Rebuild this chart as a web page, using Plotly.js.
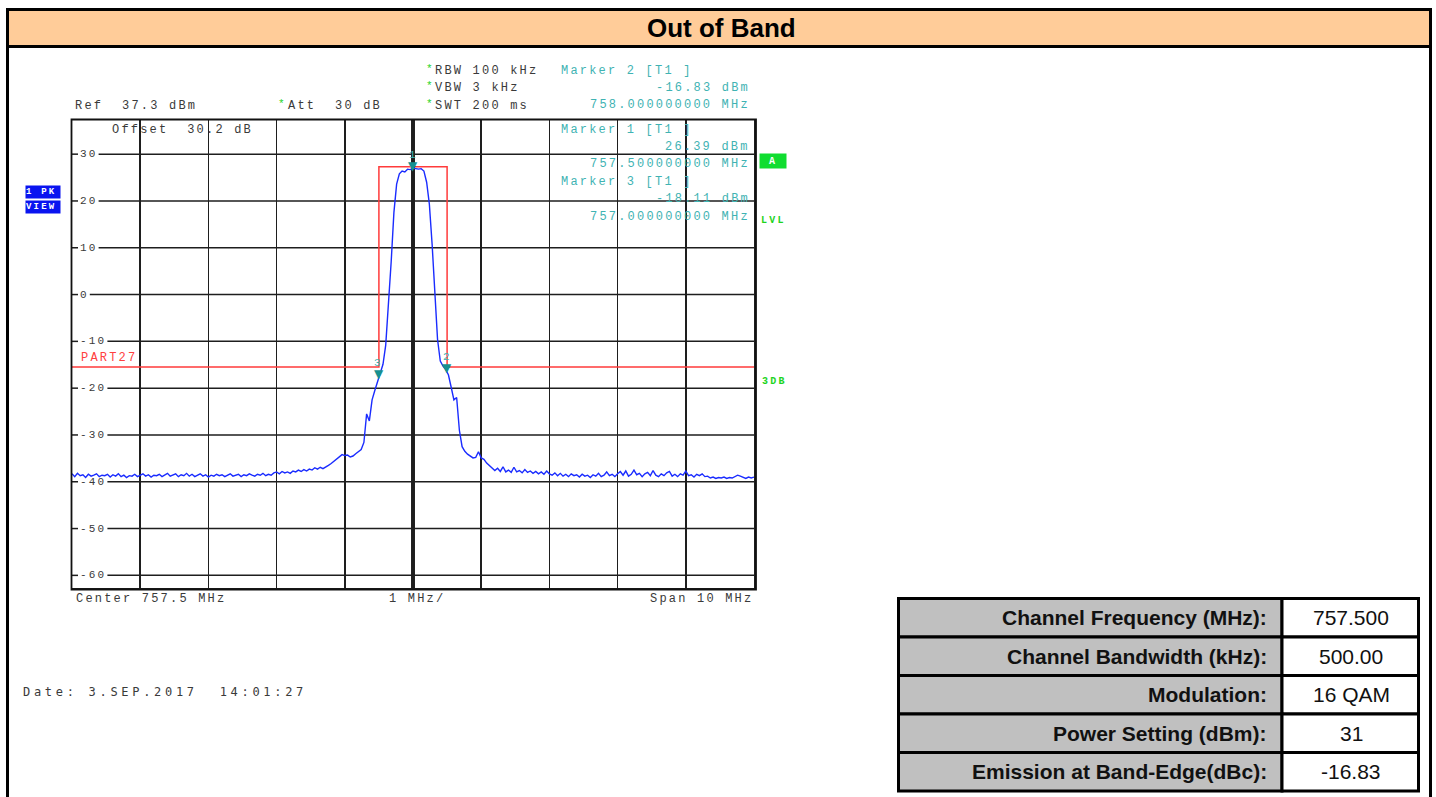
<!DOCTYPE html>
<html>
<head>
<meta charset="utf-8">
<script src="https://cdn.plot.ly/plotly-3.0.1.min.js"></script>
<style>
  html, body { margin: 0; padding: 0; background: #fff; }
  #chart { width: 1436px; height: 797px; }
  text[style*="Liberation Mono"] { letter-spacing: 2.2px; }
  text[style*="DejaVu Sans Mono"] { letter-spacing: 3.7px; }
</style>
</head>
<body>
<div id="chart"></div>
<script>
// ---------------- data ----------------
const traceStartMHz = 752.5;
const traceStepMHz = 0.04;
const traceLevelDbm = [
  -38.3,-38.9,-38.2,-38.7,-38.5,-39.1,-38.4,-38.8,-38.6,-38.3,
  -38.9,-38.6,-38.7,-38.4,-39.0,-38.5,-38.8,-38.3,-38.9,-38.6,
  -39.1,-38.7,-38.8,-38.4,-38.9,-38.6,-38.3,-38.8,-38.5,-39.0,
  -38.6,-38.7,-38.4,-38.9,-38.5,-38.2,-38.8,-38.6,-38.3,-38.9,
  -38.5,-38.7,-38.2,-38.8,-38.4,-38.9,-38.6,-38.3,-38.8,-38.5,
  -39.0,-38.6,-38.8,-38.4,-38.7,-38.5,-38.9,-38.6,-38.3,-38.8,
  -38.6,-38.4,-38.9,-38.5,-38.7,-38.3,-38.6,-38.8,-38.4,-38.6,
  -38.2,-38.7,-38.4,-38.6,-38.1,-37.9,-38.3,-37.8,-38.1,-37.9,
  -38.2,-37.7,-37.9,-37.5,-37.8,-37.4,-37.7,-37.3,-37.5,-37.0,
  -37.3,-36.9,-37.2,-36.9,-36.5,-36.1,-35.6,-35.2,-34.6,-34.2,
  -34.4,-34.3,-34.7,-34.5,-34.0,-33.6,-33.1,-31.6,-25.5,-27.0,
  -22.5,-20.5,-18.6,-17.0,-14.9,-10.8,-2.5,7.0,17.5,23.6,
  25.8,26.4,26.2,26.8,26.7,27.0,26.9,26.8,26.9,26.4,
  24.0,19.3,10.8,-0.6,-9.6,-14.2,-15.3,-16.0,-17.2,-19.8,
  -22.5,-22.0,-29.0,-32.5,-33.5,-34.1,-34.6,-34.9,-34.8,-33.6,
  -34.9,-35.2,-36.0,-36.6,-37.2,-37.6,-37.1,-37.8,-36.8,-37.9,
  -37.5,-38.0,-36.9,-37.9,-37.6,-38.1,-37.4,-38.0,-37.7,-38.2,
  -37.8,-38.3,-37.9,-38.4,-37.7,-38.3,-38.6,-38.1,-38.7,-38.2,
  -38.8,-38.4,-38.9,-38.3,-38.7,-38.5,-39.0,-38.4,-38.8,-38.6,
  -39.1,-38.5,-38.8,-38.2,-38.9,-38.6,-37.9,-38.7,-38.4,-38.9,
  -38.3,-37.8,-38.6,-37.7,-38.8,-38.4,-37.5,-38.5,-38.2,-38.9,
  -38.3,-38.0,-38.7,-37.6,-38.6,-38.9,-38.3,-38.7,-38.1,-37.8,
  -38.8,-38.4,-38.9,-38.3,-38.6,-37.7,-38.7,-38.5,-39.0,-38.4,
  -38.7,-38.3,-38.9,-38.8,-39.2,-39.0,-39.3,-39.1,-39.2,-39.0,
  -39.3,-39.1,-39.2,-38.9,-38.6,-38.8,-39.1,-39.3,-39.0,-39.2,
  -39.0
];

const markerNames   = ['1', '2', '3'];
const markerFreqMHz = [757.5, 758.0, 757.0];
const markerLevelDbm = [26.39, -16.83, -18.11];

const limitFreqMHz  = [752.5, 757.0, 757.0, 758.0, 758.0, 762.5];
const limitLevelDbm = [-15.5, -15.5, 27.3, 27.3, -15.5, -15.5];

const freqGridMHz = [752.5, 753.5, 754.5, 755.5, 756.5, 757.5, 758.5, 759.5, 760.5, 761.5, 762.5];
const levelTicksDbm = [30, 20, 10, 0, -10, -20, -30, -40, -50, -60];

const tableLabels = ['Channel Frequency (MHz):', 'Channel Bandwidth (kHz):', 'Modulation:', 'Power Setting (dBm):', 'Emission at Band-Edge(dBc):'];
const tableValues = ['757.500', '500.00', '16 QAM', '31', '-16.83'];

// ---------------- layout helpers ----------------
const W = 1436, H = 797;
const px = x => x / W;
const py = y => 1 - y / H;

const traceFreqMHz = traceLevelDbm.map((_, i) => traceStartMHz + i * traceStepMHz);

const MONO = 'Liberation Mono';
const GREY = '#3a3a3a';
const TEAL = '#3fb3b3';
const TEAL_DARK = '#17908f';
const GREEN = '#1ed41e';
const GRID = '#1e1e1e';

const traces = [
  {
    x: limitFreqMHz, y: limitLevelDbm, type: 'scatter', mode: 'lines',
    line: { color: '#ff3b3b', width: 1.5 }, hoverinfo: 'skip'
  },
  {
    x: traceFreqMHz, y: traceLevelDbm, type: 'scatter', mode: 'lines',
    line: { color: '#1a2cff', width: 1.4 }, hoverinfo: 'skip'
  }
];

const shapes = [];
const annotations = [];

// page border + header
shapes.push({ type: 'line', xref: 'paper', yref: 'paper', x0: px(7.5), x1: px(7.5), y0: py(9), y1: py(797), line: { color: '#000', width: 3 } });
shapes.push({ type: 'line', xref: 'paper', yref: 'paper', x0: px(1430.5), x1: px(1430.5), y0: py(9), y1: py(797), line: { color: '#000', width: 3 } });
shapes.push({ type: 'rect', xref: 'paper', yref: 'paper', x0: px(7.5), x1: px(1430.5), y0: py(46.5), y1: py(9.5), fillcolor: '#ffcc99', line: { color: '#000', width: 3 } });
annotations.push({ xref: 'paper', yref: 'paper', x: px(721), y: py(28), text: '<b>Out of Band</b>', showarrow: false,
  font: { family: 'Liberation Sans', size: 26, color: '#000' }, xanchor: 'center', yanchor: 'middle' });

// analyzer frame
shapes.push({ type: 'rect', xref: 'paper', yref: 'paper', x0: px(71.5), x1: px(756), y0: py(589.5), y1: py(119.5), line: { color: '#111', width: 1.8 } });
// centre double line
shapes.push({ type: 'line', xref: 'x', yref: 'paper', x0: 757.5, x1: 757.5, y0: py(588), y1: py(120), line: { color: '#222', width: 4 }, layer: 'between' });
shapes.push({ type: 'line', xref: 'x', yref: 'paper', x0: 757.5, x1: 757.5, y0: py(588), y1: py(120), line: { color: '#b8b8b8', width: 2 }, layer: 'between' });

// level grid lines (interrupted by their labels) + labels
const LABEL_X = 79, LABEL_PITCH = 8.8;
levelTicksDbm.forEach(v => {
  const s = String(v);
  const labelEnd = LABEL_X + s.length * LABEL_PITCH + 2;
  shapes.push({ type: 'line', xref: 'paper', yref: 'y', x0: px(72), x1: px(LABEL_X - 1), y0: v, y1: v, line: { color: GRID, width: 1.5 }, layer: 'between' });
  shapes.push({ type: 'line', xref: 'paper', yref: 'y', x0: px(labelEnd), x1: px(754), y0: v, y1: v, line: { color: GRID, width: 1.5 }, layer: 'between' });
  annotations.push({ xref: 'paper', yref: 'y', x: px(LABEL_X), y: v, text: s, showarrow: false,
    xanchor: 'left', yanchor: 'middle', borderpad: 0,
    font: { family: MONO, size: 11, color: GREY } });
});

function txt(x, y, text, opts) {
  opts = opts || {};
  annotations.push(Object.assign({ xref: 'paper', yref: 'paper', x: px(x), y: py(y), text: text, showarrow: false,
    xanchor: 'left', yanchor: 'middle', font: { family: MONO, size: 12, color: GREY } }, opts));
}

// header texts of analyzer
txt(73, 106, 'Ref  37.3 dBm');
txt(276, 104, '*', { font: { family: MONO, size: 11, color: GREEN } });
txt(286, 106, 'Att  30 dB');
txt(110, 130, 'Offset  30.2 dB');
[['RBW 100 kHz', 71], ['VBW 3 kHz', 88.5], ['SWT 200 ms', 106]].forEach(r => {
  txt(424, r[1] - 2, '*', { font: { family: MONO, size: 11, color: GREEN } });
  txt(433, r[1], r[0]);
});

// marker readouts
const markerBlocks = [[1, 71], [0, 130], [2, 182]];
markerBlocks.forEach(b => {
  const i = b[0], y0 = b[1];
  txt(559, y0, 'Marker ' + markerNames[i] + ' [T1 ]', { font: { family: MONO, size: 12, color: TEAL } });
  txt(752, y0 + 17, markerLevelDbm[i].toFixed(2) + ' dBm', { xanchor: 'right', font: { family: MONO, size: 12, color: TEAL } });
  txt(752, y0 + 34.5, markerFreqMHz[i].toFixed(9) + ' MHz', { xanchor: 'right', font: { family: MONO, size: 12, color: TEAL } });
});

// marker symbols
markerNames.forEach((n, i) => {
  annotations.push({ xref: 'x', yref: 'y', x: markerFreqMHz[i], y: markerLevelDbm[i], text: '▼', showarrow: false,
    xanchor: 'center', yanchor: 'bottom', yshift: -4, font: { family: 'DejaVu Sans', size: 12, color: TEAL_DARK } });
  annotations.push({ xref: 'x', yref: 'y', x: markerFreqMHz[i], y: markerLevelDbm[i], text: n, showarrow: false,
    xanchor: 'center', yanchor: 'bottom', yshift: 8, font: { family: MONO, size: 11, color: TEAL } });
});

// side labels
txt(25, 192, '<b>1 PK</b>', { bgcolor: '#0a14f0', width: 34, height: 12, borderpad: 0, align: 'left', font: { family: MONO, size: 9, color: '#fff' } });
txt(25, 206.5, '<b>VIEW</b>', { bgcolor: '#0a14f0', width: 34, height: 12, borderpad: 0, align: 'left', font: { family: MONO, size: 9, color: '#fff' } });
txt(759, 161, '<b>A</b>', { bgcolor: '#10dd30', width: 26, height: 14, borderpad: 0, font: { family: MONO, size: 10, color: '#fff' } });
txt(759, 220, '<b>LVL</b>', { font: { family: MONO, size: 10, color: GREEN } });
txt(760, 381, '<b>3DB</b>', { font: { family: MONO, size: 10, color: GREEN } });
txt(79, 358, 'PART27', { font: { family: MONO, size: 12, color: '#ff4040' } });

// bottom labels
txt(74, 599, 'Center 757.5 MHz');
txt(387, 599, '1 MHz/');
txt(755, 599, 'Span 10 MHz', { xanchor: 'right' });
txt(21, 692, 'Date: 3.SEP.2017  14:01:27', { font: { family: 'DejaVu Sans Mono', size: 12, color: GREY } });

// table
const rowEdges = [598.5, 637, 675.5, 714, 752.5, 791];
tableLabels.forEach((lab, r) => {
  const yT = rowEdges[r], yB = rowEdges[r + 1];
  shapes.push({ type: 'rect', xref: 'paper', yref: 'paper', x0: px(898.5), x1: px(1282), y0: py(yB), y1: py(yT), fillcolor: '#c0c0c0', line: { color: '#000', width: 3 } });
  shapes.push({ type: 'rect', xref: 'paper', yref: 'paper', x0: px(1282), x1: px(1418.5), y0: py(yB), y1: py(yT), fillcolor: '#ffffff', line: { color: '#000', width: 3 } });
  annotations.push({ xref: 'paper', yref: 'paper', x: px(1269), y: py((yT + yB) / 2), text: '<b>' + lab + '</b>', showarrow: false,
    xanchor: 'right', yanchor: 'middle', font: { family: 'Liberation Sans', size: 21, color: '#111' } });
  annotations.push({ xref: 'paper', yref: 'paper', x: px(1351), y: py((yT + yB) / 2), text: tableValues[r], showarrow: false,
    xanchor: 'center', yanchor: 'middle', font: { family: 'Liberation Sans', size: 21, color: '#111' } });
});

const layout = {
  width: W, height: H,
  margin: { l: 0, r: 0, t: 0, b: 0 },
  paper_bgcolor: '#ffffff', plot_bgcolor: '#ffffff',
  showlegend: false,
  xaxis: {
    range: [752.5, 762.5], domain: [px(72), px(754)],
    tickvals: freqGridMHz, showticklabels: false, ticks: '',
    showgrid: true, gridcolor: GRID, gridwidth: 1.5, zeroline: false,
    showline: true, mirror: true, linecolor: GRID, linewidth: 1.5, fixedrange: true
  },
  yaxis: {
    range: [-62.7, 37.3], domain: [py(588), py(120)],
    tickvals: levelTicksDbm, showticklabels: false, ticks: '',
    showgrid: false, zeroline: false,
    showline: true, mirror: true, linecolor: GRID, linewidth: 1.5, fixedrange: true
  },
  shapes: shapes,
  annotations: annotations
};

Plotly.newPlot('chart', traces, layout, { staticPlot: true, displayModeBar: false });
</script>
</body>
</html>
